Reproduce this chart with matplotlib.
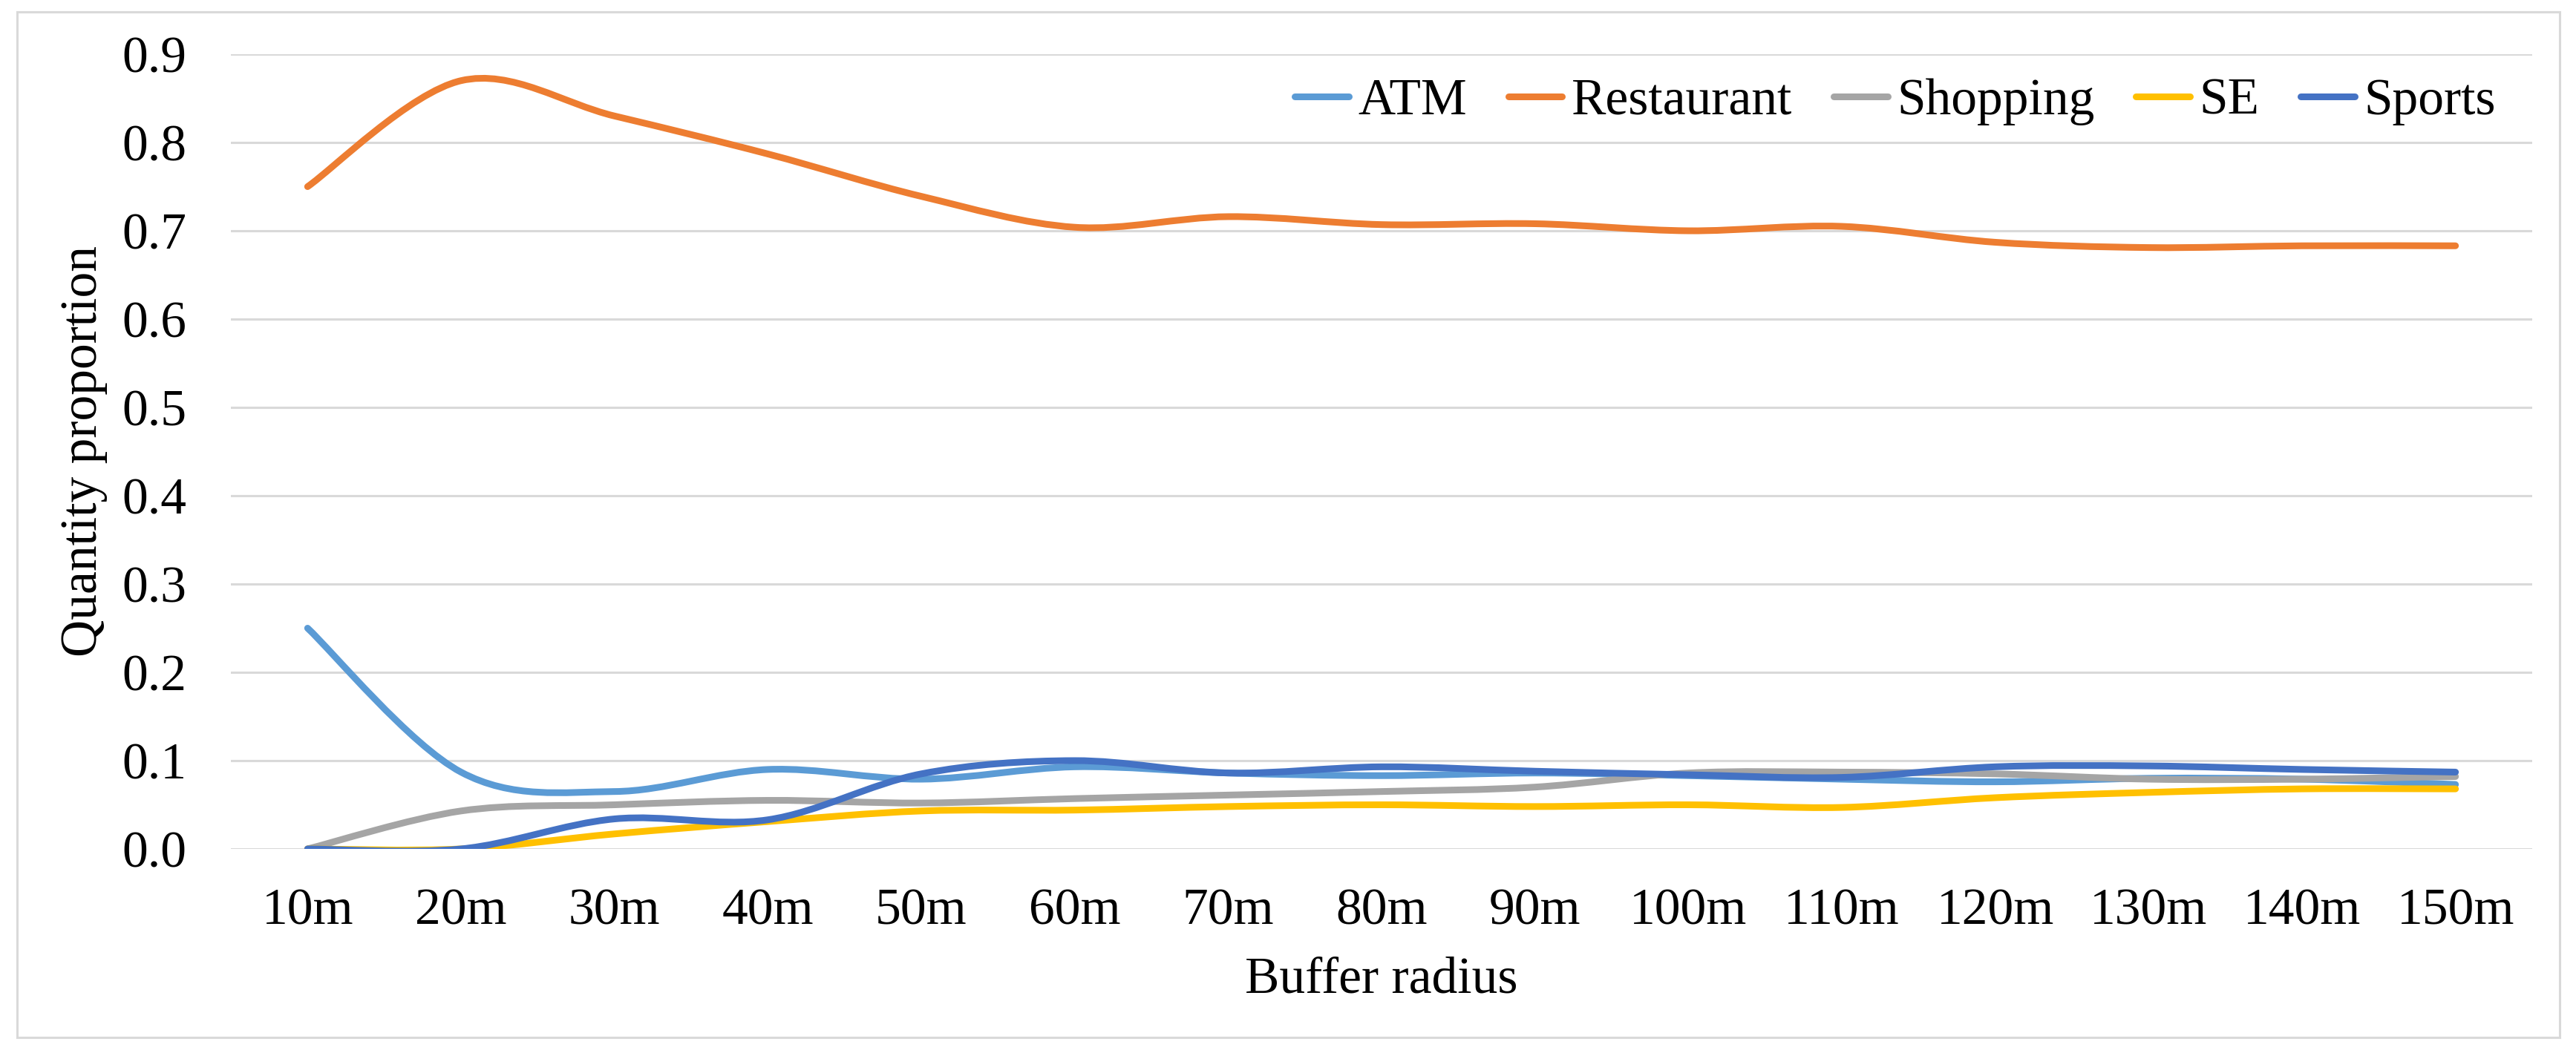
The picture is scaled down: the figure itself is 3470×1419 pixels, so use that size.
import matplotlib
matplotlib.use("Agg")
import matplotlib.pyplot as plt
from matplotlib.path import Path
from matplotlib.patches import PathPatch, Rectangle
from matplotlib.lines import Line2D

categories = ["10m", "20m", "30m", "40m", "50m", "60m", "70m", "80m",
              "90m", "100m", "110m", "120m", "130m", "140m", "150m"]
atm        = [0.250, 0.087, 0.065, 0.090, 0.079, 0.093, 0.086, 0.083,
              0.086, 0.083, 0.079, 0.076, 0.080, 0.079, 0.073]
restaurant = [0.750, 0.870, 0.830, 0.787, 0.739, 0.704, 0.716, 0.707,
              0.708, 0.700, 0.705, 0.687, 0.681, 0.683, 0.683]
shopping   = [0.000, 0.043, 0.050, 0.055, 0.052, 0.057, 0.061, 0.065,
              0.070, 0.086, 0.087, 0.085, 0.079, 0.079, 0.082]
se         = [0.000, 0.000, 0.017, 0.031, 0.043, 0.044, 0.048, 0.050,
              0.048, 0.050, 0.047, 0.058, 0.064, 0.068, 0.068]
sports     = [0.000, 0.000, 0.034, 0.033, 0.085, 0.100, 0.086, 0.093,
              0.088, 0.084, 0.081, 0.093, 0.094, 0.090, 0.087]

series_names = ["ATM", "Restaurant", "Shopping", "SE", "Sports"]
series_vals = [atm, restaurant, shopping, se, sports]
colors = ["#5B9BD5", "#ED7D31", "#A5A5A5", "#FFC000", "#4472C4"]
yticks = [0.0, 0.1, 0.2, 0.3, 0.4, 0.5, 0.6, 0.7, 0.8, 0.9]

plt.rcParams['font.family'] = ['Liberation Serif', 'DejaVu Serif']
FS = 50

W, H = 3470, 1419
fig = plt.figure(figsize=(W / 100, H / 100), dpi=100)
fig.patches.append(Rectangle((23 / W, 1 - 1398 / H), (3448 - 23) / W, (1398 - 16) / H,
                             transform=fig.transFigure, fill=False,
                             edgecolor="#D9D9D9", linewidth=2.2))

ax = fig.add_axes([311 / W, 1 - 1144 / H, 3100 / W, (1144 - 73) / H])


def smooth_path(xs, ys):
    # Excel-style smoothed line drawn as cubic Bezier segments through the data points
    n = len(xs)
    verts = [(xs[0], ys[0])]
    codes = [Path.MOVETO]
    for i in range(n - 1):
        x0, y0 = (xs[i - 1], ys[i - 1]) if i > 0 else (xs[i], ys[i])
        x1, y1 = xs[i], ys[i]
        x2, y2 = xs[i + 1], ys[i + 1]
        x3, y3 = (xs[i + 2], ys[i + 2]) if i + 2 < n else (xs[i + 1], ys[i + 1])
        c1 = (x1 + (x2 - x0) / 6, y1 + (y2 - y0) / 6)
        c2 = (x2 - (x3 - x1) / 6, y2 - (y3 - y1) / 6)
        verts += [c1, c2, (x2, y2)]
        codes += [Path.CURVE4] * 3
    return Path(verts, codes)


xs = list(range(len(categories)))
handles = []
for name, vals, c in zip(series_names, series_vals, colors):
    patch = PathPatch(smooth_path(xs, vals), facecolor="none", edgecolor=c,
                      linewidth=6.5, capstyle="round", joinstyle="round", zorder=3)
    ax.add_patch(patch)
    handles.append(Line2D([], [], color=c, linewidth=6.5, solid_capstyle="round"))

ax.set_xlim(-0.5, len(categories) - 0.5)
ax.set_ylim(0, 0.9)
ax.set_xticks(xs)
ax.set_xticklabels(categories)
ax.set_yticks(yticks)
ax.set_yticklabels([f"{v:.1f}" for v in yticks])
ax.tick_params(axis="both", length=0, labelsize=FS)
ax.tick_params(axis="y", pad=43)
ax.tick_params(axis="x", pad=38)
ax.grid(axis="y", color="#D9D9D9", linewidth=2.2)
ax.set_axisbelow(True)
for s in ax.spines.values():
    s.set_visible(False)

fig.text(113 / W, 1 - 608 / H, "Quantity proportion", rotation=90,
         ha="center", va="center", fontsize=FS)
fig.text(1861 / W, 1 - 1321 / H, "Buffer radius", ha="center", va="center", fontsize=FS)

fig.legend(handles, series_names, loc="center right",
           bbox_to_anchor=(3362 / W, 1 - 137 / H), ncol=5, frameon=False,
           fontsize=FS, handlelength=1.05, handletextpad=0.18, columnspacing=0.8,
           borderpad=0, borderaxespad=0)

fig.savefig("out.png", dpi=100, facecolor="white")
